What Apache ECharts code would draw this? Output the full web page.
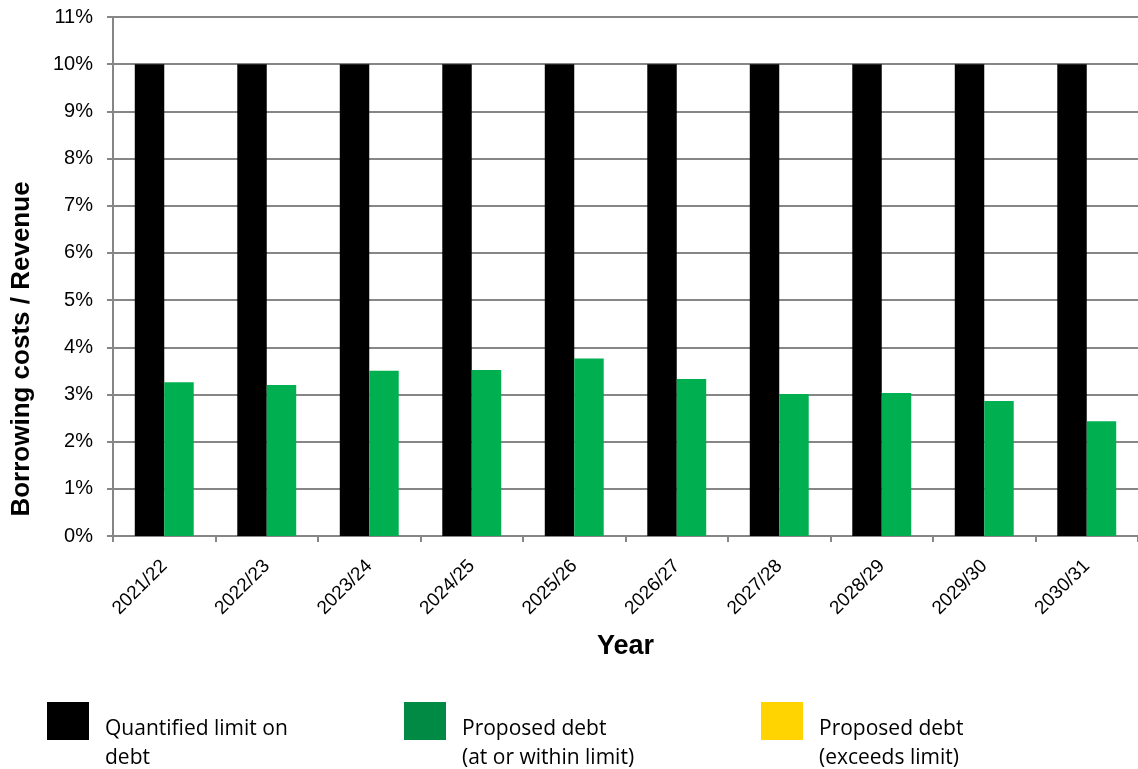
<!DOCTYPE html>
<html><head><meta charset="utf-8">
<script src="https://cdn.jsdelivr.net/npm/echarts@6/dist/echarts.min.js"></script>
<style>html,body{margin:0;padding:0;background:#fff}#c{width:1138px;height:769px}</style>
</head><body><div id="c"></div>
<script>
const categories = ['2021/22','2022/23','2023/24','2024/25','2025/26','2026/27','2027/28','2028/29','2029/30','2030/31'];
const limitValues = [10,10,10,10,10,10,10,10,10,10];
const withinValues = [3.26,3.20,3.50,3.52,3.76,3.33,3.01,3.03,2.86,2.43];
const exceedsValues = [null,null,null,null,null,null,null,null,null,null];
const seriesNames = ['Quantified limit on\ndebt','Proposed debt\n(at or within limit)','Proposed debt\n(exceeds limit)'];
const legendColors = ['#000000','#008A44','#FFD400'];

const chart = echarts.init(document.getElementById('c'));
const axisGray = '#868686';
const legendLefts = [42,399,756];
// icon: square in the top part of a taller box, so the text sits lower than the swatch
const iconPath = 'path://M0,0L42,0L42,38L0,38Z M0,83L0.01,83L0,83Z';
const legends = seriesNames.map((n,i)=>({
  left: legendLefts[i], top: 697, orient:'horizontal', padding:5,
  itemWidth: 42, itemHeight: 83, itemGap: 0,
  icon: iconPath, selectedMode:false,
  data:[{name:n, itemStyle:{color:legendColors[i], borderWidth:0}}],
  textStyle:{fontFamily:'Open Sans', fontSize:21, color:'#000', lineHeight:29, padding:[0,0,0,11]}
}));
chart.setOption({
  animation:false,
  legend: legends,
  grid:{left:113, top:17, right:-3, bottom:233, containLabel:false},
  xAxis:{
    type:'category', data:categories,
    name:'Year', nameLocation:'middle', nameGap:97,
    nameTextStyle:{fontFamily:'Liberation Sans', fontWeight:'bold', fontSize:27, color:'#000'},
    axisLine:{lineStyle:{color:axisGray,width:2}},
    axisTick:{show:true, length:6, lineStyle:{color:axisGray,width:2}},
    axisLabel:{rotate:45, fontFamily:'Liberation Sans', fontSize:19, color:'#000', margin:27}
  },
  yAxis:{
    type:'value', min:0, max:11, interval:1,
    axisLine:{show:true, lineStyle:{color:axisGray,width:2}},
    axisTick:{show:true, length:6, lineStyle:{color:axisGray,width:2}},
    splitLine:{lineStyle:{color:axisGray,width:2}},
    axisLabel:{formatter:'{value}%', fontFamily:'Liberation Sans', fontSize:20, color:'#000', margin:20}
  },
  graphic:[{
    type:'text', x:22, y:349, rotation:Math.PI/2,
    style:{text:'Borrowing costs / Revenue', fontFamily:'Liberation Sans', fontWeight:'bold', fontSize:26, fill:'#000', align:'center', verticalAlign:'middle'}
  }],
  series:[
    {name:seriesNames[0], type:'bar', data:limitValues, itemStyle:{color:'#000'}, barGap:'0%', barCategoryGap:'42.5%'},
    {name:seriesNames[1], type:'bar', stack:'debt', data:withinValues, itemStyle:{color:'#00B050'}},
    {name:seriesNames[2], type:'bar', stack:'debt', data:exceedsValues, itemStyle:{color:'#FFD400'}}
  ]
});
</script></body></html>
